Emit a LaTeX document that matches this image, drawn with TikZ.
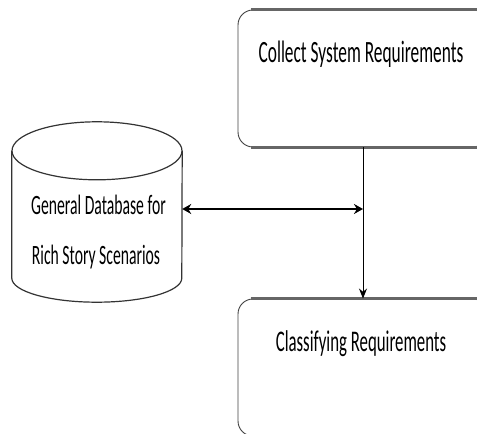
\documentclass[tikz,border=0pt]{standalone}
\usepackage{fontspec}
\usepackage{graphicx}
\setmainfont{Carlito}
\usetikzlibrary{shapes.geometric, arrows.meta, positioning, calc}
\newcommand{\squeeze}[1]{\scalebox{0.56}[1]{#1}}

\begin{document}
\begin{tikzpicture}[
    x=1pt, y=1pt,
    process/.style={rectangle, rounded corners=15pt, draw=black!75, line width=0.9pt, minimum width=250pt, minimum height=137pt, inner sep=0pt},
    edge/.style={draw=black!60, line width=3pt},
    database/.style={rectangle, minimum width=170pt, minimum height=180pt, inner sep=0pt},
    dbline/.style={draw=black!80, line width=1.2pt},
    caption/.style={anchor=base, inner sep=0pt, font=\fontsize{28}{30}\selectfont},
    arrow/.style={->, >={Stealth[length=10pt, width=8pt]}, line width=0.9pt}
]
    \clip (0,0) rectangle (477,434);

    % Process boxes
    \node[process] (collect) at (363,355.5) {};
    \node[process] (classify) at (363,66.5) {};
    \draw[edge] ($(collect.north west)+(13,0)$) -- (collect.north east);
    \draw[edge] ($(collect.south west)+(13,0)$) -- (collect.south east);
    \draw[edge] ($(classify.north west)+(13,0)$) -- (classify.north east);
    \node[caption, font=\fontsize{31}{33}\selectfont] (collecttext) at (361,371) {\squeeze{Collect System Requirements}};
    \node[caption, font=\fontsize{30}{32}\selectfont] (classifytext) at (361,82) {\squeeze{Classifying Requirements}};

    % Database
    \node[database] (db) at (97,222) {};
    \draw[dbline] ([yshift=-29pt]db.north) ellipse [x radius=85, y radius=29];
    \draw[dbline] ([yshift=-29pt]db.north west) -- ([yshift=24pt]db.south west)
        arc[start angle=180, end angle=360, x radius=85, y radius=24] -- ([yshift=-29pt]db.north east);
    \node[caption] (dbtext1) at (98.5,219) {\squeeze{General Database for}};
    \node[caption] (dbtext2) at (96,169) {\squeeze{Rich Story Scenarios}};

    % Connectors
    \coordinate (tap) at (363,225);
    \draw[arrow] (collect.south) -- (classify.north);
    \draw[arrow, <->, >={Stealth[length=9pt, width=10pt]}, line width=1.8pt] (db.east |- tap) -- (tap);
\end{tikzpicture}
\end{document}
